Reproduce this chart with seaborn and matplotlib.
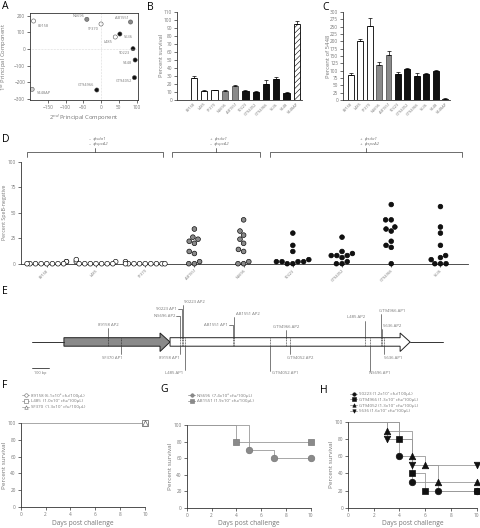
import numpy as np
import pandas as pd
import matplotlib
matplotlib.use("Agg")
import matplotlib.pyplot as plt
import seaborn as sns
from matplotlib.patches import Polygon
from matplotlib.lines import Line2D

sns.set_theme(style="ticks")
plt.rcParams["font.family"] = ["Open Sans", "DejaVu Sans"]

# ---------------- data ----------------
# A: PCA
pca_strain = ["89158", "NS696", "SF370", "AB1551", "5636", "L485",
              "90223", "5448", "GT94052", "GT94966", "5448AP"]
pca_pc2 = [-190, -40, 0, 83, 53, 40, 90, 96, 94, -12, -194]
pca_pc1 = [168, 178, 150, 162, 90, 72, 2, -66, -172, -246, -242]
pca_type = ["open", "gray", "open", "gray", "black", "open",
            "black", "black", "black", "black", "ap"]

# B / C: bars
bar_strain = ["89158", "L485", "SF370", "NS696", "AB1551", "90223",
              "GT94052", "GT94966", "5636", "5448", "5448AP"]
bar_type = ["open", "open", "open", "gray", "gray", "black",
            "black", "black", "black", "black", "ap"]
surv_mean = [27, 11, 12, 11, 17, 11, 10, 20, 26, 9, 95]
surv_err = [3, 2, 1, 1, 1.5, 2, 1, 5, 3, 0.6, 4]
pct5448_mean = [85, 200, 253, 118, 153, 90, 107, 83, 87, 100, 5]
pct5448_err = [8, 8, 25, 10, 15, 5, 2, 8, 4, 2, 1]

# D: percent SpeB-negative colonies
d_strain = ["89158", "L485", "SF370", "AB1551", "NS696",
            "90223", "GT94052", "GT94966", "5636"]
d_type = ["open", "open", "open", "gray", "gray",
          "black", "black", "black", "black"]
d_values = [
    [0, 0, 0, 0, 2, 0, 2, 0, 0, 0],
    [0, 0, 0, 2, 4, 0, 0, 0, 2, 0],
    [0, 0, 0, 0, 0, 2, 0, 0, 0, 0],
    [24, 34, 20, 22, 26, 12, 10, 2, 0, 0],
    [43, 32, 28, 24, 20, 14, 12, 2, 0, 0],
    [30, 18, 12, 4, 2, 2, 0, 0, 2, 2],
    [26, 12, 10, 8, 8, 8, 6, 2, 0, 0],
    [58, 43, 43, 36, 34, 32, 22, 18, 16, 0],
    [56, 36, 30, 18, 8, 6, 4, 0, 0, 0],
]
d_groups = [("\u2013  \u03d5sda1\n\u2013  \u03d5speA2", -0.4, 2.36),
            ("+  \u03d5sda1\n\u2013  \u03d5speA2", 2.55, 4.34),
            ("+  \u03d5sda1\n+  \u03d5speA2", 4.54, 8.44)]

# E: insertion sites (bp)
gene1_start, gene1_end, gene2_end, line_end = 188, 812, 2224, 2418
site_name = ["89158 AP2", "NS696 AP2", "90223 AP1", "90223 AP2", "AB1551 AP1",
             "AB1551 AP2", "GT94966 AP2", "L485 AP2", "GT94966 AP1", "5636 AP2",
             "SF370 AP1", "89158 AP1", "L485 AP1", "GT94052 AP2", "GT94052 AP1",
             "NS696 AP1", "5636 AP1"]
site_bp = [447, 871, 881, 888, 1182, 1186, 1492, 1959, 2051, 2061,
           524, 871, 900, 1518, 1400, 1988, 2071]
site_side = ["up"] * 10 + ["down"] * 7
site_style = ["tick", "lead", "lead", "long", "lead", "long", "tick", "long", "long", "tick",
              "tick", "tick", "long", "tick", "long", "long", "tick"]
site_text_y = [325, 316, 309, 302, 325, 314, 326.5, 317.5, 310.5, 326,
               358, 358, 372.5, 358, 373, 373, 358]
site_dx = [0, 0, 0, 11, 0, 14, 0, -9, 11, 10,
           -9, -11, -11, 10, 15, 10, 9]

# F, G, H: survival
f_strain = ["89158 (6.1x10\u2076 cfu/100\u00b5L)", "L485  (1.0x10\u2077 cfu/100\u00b5L)",
            "SF370  (1.3x10\u2077 cfu/100\u00b5L)"]
f_days = [[0, 10], [0, 10], [0, 10]]
f_surv = [[100, 100], [100, 100], [100, 100]]
f_marker = ["o", "s", "^"]

g_strain = ["NS696  (7.4x10\u2076 cfu/100\u00b5L)", "AB1551 (1.9x10\u2077 cfu/100\u00b5L)"]
g_days = [[0, 5, 7, 10], [0, 4, 10]]
g_surv = [[100, 70, 60, 60], [100, 80, 80]]
g_marker = ["o", "s"]

h_strain = ["90223 (1.2x10\u2077 cfu/100\u00b5L)", "GT94966 (1.3x10\u2077 cfu/100\u00b5L)",
            "GT94052 (1.3x10\u2077 cfu/100\u00b5L)", "5636 (1.6x10\u2077 cfu/100\u00b5L)"]
h_days = [[0, 4, 5, 7, 10], [0, 4, 5, 6, 10], [0, 3, 5, 6, 7, 10], [0, 3, 5, 10]]
h_surv = [[100, 60, 30, 20, 20], [100, 80, 40, 20, 20],
          [100, 90, 60, 50, 30, 30], [100, 80, 50, 50]]
h_marker = ["o", "s", "^", "v"]

# ---------------- style ----------------
fill = {"open": "white", "gray": "#8a8a8a", "black": "#111111", "ap": "#d0d0d0"}
TXT = "#777777"
TICK_FS = 3.4
W, H = 480, 528
fig = plt.figure(figsize=(W / 100, H / 100), dpi=100)


def add_ax(l, t, r, b):
    return fig.add_axes([l / W, 1 - b / H, (r - l) / W, (b - t) / H])


def style(ax, box=False):
    for s in ["left", "bottom", "top", "right"]:
        ax.spines[s].set_color("#333333")
        ax.spines[s].set_linewidth(0.6)
    if not box:
        sns.despine(ax=ax)
    ax.tick_params(labelsize=TICK_FS, labelcolor=TXT, length=2, width=0.5,
                   color="#333333", pad=1.5)


def ylab(ax, text, x_px, fs):
    # x_px = right edge of the rotated label
    ax.set_ylabel(text, fontsize=fs, color=TXT)
    box = ax.get_position()
    ax.yaxis.set_label_coords(x_px / W, box.y0 + box.height / 2, transform=fig.transFigure)


def letter(x, y, s):
    fig.text(x / W, 1 - y / H, s, fontsize=7.5, va="top", ha="left", color="black")


# ---------------- A ----------------
axA = add_ax(30, 13, 138, 100)
dfA = pd.DataFrame({"pc2": pca_pc2, "pc1": pca_pc1, "type": pca_type, "strain": pca_strain})
axA.axhline(0, color="#bbbbbb", lw=0.4, ls=":")
axA.axvline(0, color="#bbbbbb", lw=0.4, ls=":")
sns.scatterplot(data=dfA, x="pc2", y="pc1", hue="type", palette=fill, s=9,
                edgecolor="#555555", linewidth=0.4, legend=False, ax=axA)
a_off = {"89158": (3, -2, "left", "top"), "NS696": (-2, 1, "right", "bottom"),
         "SF370": (-2, -2, "right", "top"), "AB1551": (-1, 1.5, "right", "bottom"),
         "5636": (3, -1, "left", "top"), "L485": (-2, -2, "right", "top"),
         "90223": (-2, -1.5, "right", "top"), "5448": (-2, -1, "right", "top"),
         "GT94052": (-2, -1, "right", "top"), "GT94966": (-2, 2, "right", "bottom"),
         "5448AP": (3, -1, "left", "top")}
for s, xv, yv in zip(pca_strain, pca_pc2, pca_pc1):
    dx, dy, ha, va = a_off[s]
    axA.annotate(s, (xv, yv), xytext=(dx, dy), textcoords="offset points",
                 fontsize=2.8, color=TXT, ha=ha, va=va)
axA.set_xlim(-200, 104)
axA.set_ylim(-306, 216)
axA.set_xticks([-150, -100, -50, 0, 50, 100])
axA.set_yticks([200, 100, 0, -100, -200, -300])
style(axA, box=True)
axA.set_xlabel("2$^{nd}$ Principal Component", fontsize=4.2, color=TXT, labelpad=2)
ylab(axA, "1$^{st}$ Principal Component", 9, 4.2)
letter(2, 1, "A")


# ---------------- B, C ----------------
def bar_panel(ax, vals, errs, ylim, yticks, ylabel, left, lab_x):
    dfb = pd.DataFrame({"strain": bar_strain, "val": vals, "type": bar_type})
    sns.barplot(data=dfb, x="strain", y="val", hue="strain",
                palette=[fill[t] if t != "ap" else "white" for t in bar_type],
                edgecolor="black", linewidth=0.6, width=0.62, legend=False, ax=ax)
    ax.patches[-1].set_hatch("//////")
    for p, t in zip(ax.patches, bar_type):
        if t == "gray":
            p.set_edgecolor("#555555")
    ax.errorbar(range(len(vals)), vals, yerr=[np.zeros(len(vals)), errs], fmt="none",
                ecolor="black", elinewidth=0.5, capsize=1.5, capthick=0.5)
    ax.set_xlim(left, 10.5)
    ax.set_ylim(*ylim)
    ax.set_yticks(yticks)
    style(ax)
    ax.set_xticks(range(len(vals)))
    ax.set_xticklabels(bar_strain, rotation=45, ha="right", rotation_mode="anchor", fontsize=2.8)
    ax.tick_params(axis="x", length=0)
    ax.set_xlabel("")
    ylab(ax, ylabel, lab_x, 4.2)


plt.rcParams["hatch.linewidth"] = 0.4
axB = add_ax(177, 11.7, 302, 100)
bar_panel(axB, surv_mean, surv_err, (0, 110), range(0, 111, 10), "Percent survival", -1.65, 164)
letter(147, 2, "B")
axC = add_ax(343, 12, 450, 100)
bar_panel(axC, pct5448_mean, pct5448_err, (0, 300), range(0, 301, 25), "Percent of 5448", -0.81, 331)
letter(322, 2, "C")

# ---------------- D ----------------
axD = add_ax(20.7, 161.7, 468, 263.7)
dfD = pd.DataFrame({"strain": np.repeat(d_strain, [len(v) for v in d_values]),
                    "pct": np.concatenate(d_values)})
sns.swarmplot(data=dfD, x="strain", y="pct", hue="strain", order=d_strain,
              palette=[fill[t] for t in d_type], size=3.4, edgecolor="black",
              linewidth=0.45, legend=False, ax=axD)
for c in axD.collections:
    c.set_clip_on(False)
axD.set_xlim(-0.53, 8.56)
axD.set_ylim(0, 100)
axD.set_yticks([0, 25, 50, 75, 100])
style(axD)
axD.set_xticks(range(len(d_strain)))
axD.set_xticklabels(d_strain, rotation=45, ha="right", rotation_mode="anchor", fontsize=2.8)
axD.set_xlabel("")
ylab(axD, "Percent SpeB-negative", 7, 3.8)
for txt, x0, x1 in d_groups:
    xm = (x0 + x1) / 2
    axD.plot([x0, x0, x1, x1], [104.5, 109.5, 109.5, 104.5], color="#333333", lw=0.5, clip_on=False)
    axD.plot([xm, xm], [109.5, 113.5], color="#333333", lw=0.5, clip_on=False)
    axD.text(xm - 0.12, 115, txt, fontsize=3.2, color=TXT, ha="left", va="bottom",
             style="italic", linespacing=1.3)
letter(2, 134, "D")

# ---------------- E ----------------
axE = add_ax(0, 288, 480, 382)
axE.set_xlim(-188, 2635)
axE.set_ylim(382, 288)
axE.axis("off")
pxbp = 1 / 0.17
body_t, body_b, head_t, head_b, mid = 337.7, 346.2, 333, 351.5, 342
head_len = 10 * pxbp
axE.plot([0, gene1_start], [mid, mid], color="#333333", lw=0.7)
axE.plot([gene2_end, line_end], [mid, mid], color="#333333", lw=0.7)


def arrow(x0, x1, fc):
    xs = x1 - head_len
    pts = [(x0, body_t), (xs, body_t), (xs, head_t), (x1, mid), (xs, head_b), (xs, body_b), (x0, body_b)]
    axE.add_patch(Polygon(pts, closed=True, fc=fc, ec="#222222", lw=0.7))


arrow(gene1_start, gene1_end, "#8a8a8a")
arrow(gene1_end, gene2_end, "white")
for bp in sorted(set(site_bp)):
    axE.plot([bp, bp], [body_t, body_b], color="#222222", lw=0.45, ls=(0, (1.5, 1)))
for name, bp, side, st, ty, dx in zip(site_name, site_bp, site_side, site_style, site_text_y, site_dx):
    if side == "up":
        edge = body_t
        if st == "lead":
            axE.text(bp - 5 * pxbp, ty, name, fontsize=3.1, color=TXT, ha="right", va="center")
            axE.plot([bp - 4 * pxbp, bp, bp], [ty, ty, edge], color="#333333", lw=0.45)
        else:
            axE.text(bp + dx * pxbp, ty, name, fontsize=3.1, color=TXT, ha="center", va="center")
            axE.plot([bp, bp], [ty + 3, edge], color="#333333", lw=0.45)
    else:
        edge = body_b
        axE.text(bp + dx * pxbp, ty, name, fontsize=3.1, color=TXT, ha="center", va="center")
        axE.plot([bp, bp], [edge, ty - 2.5 if st == "long" else ty - 4.5], color="#333333", lw=0.45)
axE.plot([0, 100], [368, 368], color="#333333", lw=0.6)
axE.text(50, 373, "100 bp", fontsize=2.8, color=TXT, ha="center", va="center")
letter(2, 286, "E")


# ---------------- F, G, H ----------------
def surv_panel(ax, names, days, survs, markers, lcolor, mface, medge, legend_xy, lab_x, ms):
    handles = []
    for n, d, s, m, mf in zip(names, days, survs, markers, mface):
        sns.lineplot(x=d, y=s, drawstyle="steps-post", color=lcolor, lw=0.6,
                     estimator=None, sort=False, ax=ax)
        sns.scatterplot(x=d[1:], y=s[1:], marker=m, s=ms, color=mf, edgecolor=medge,
                        linewidth=0.5, ax=ax, zorder=4, clip_on=False)
        handles.append(Line2D([0], [0], color=lcolor, lw=0.6, marker=m, ms=2.5,
                              mfc=mf, mec=medge, mew=0.4))
    for c in ax.collections:
        c.set_clip_on(False)
    ax.set_xlim(0, 10)
    ax.set_ylim(0, 100)
    ax.set_xticks(range(0, 11, 2))
    ax.set_yticks(range(0, 101, 20))
    style(ax)
    ax.set_xlabel("Days post challenge", fontsize=4.8, color=TXT, labelpad=2)
    ylab(ax, "Percent survival", lab_x, 4.6)
    fig.legend(handles=handles, labels=names, loc="upper left",
               bbox_to_anchor=(legend_xy[0] / W, 1 - legend_xy[1] / H), frameon=False,
               fontsize=3.2, handlelength=1.6, handletextpad=0.3, labelspacing=0.35,
               borderpad=0, labelcolor=TXT)


axF = add_ax(20.7, 423, 145, 507)
surv_panel(axF, f_strain, f_days, f_surv, f_marker, "#aaaaaa", ["white"] * 3, "#666666",
           (20, 391), 7, 16)
letter(2, 380, "F")
axG = add_ax(186.7, 425, 310.7, 507.7)
surv_panel(axG, g_strain, g_days, g_surv, g_marker, "#999999", ["#8a8a8a"] * 2, "#777777",
           (186, 391), 173, 22)
letter(160, 384, "G")
axH = add_ax(348, 422, 476.7, 507.7)
surv_panel(axH, h_strain, h_days, h_surv, h_marker, "#999999", ["#111111"] * 4, "#111111",
           (348, 390), 334, 22)
letter(320, 385, "H")

fig.savefig("out.png", dpi=100)
